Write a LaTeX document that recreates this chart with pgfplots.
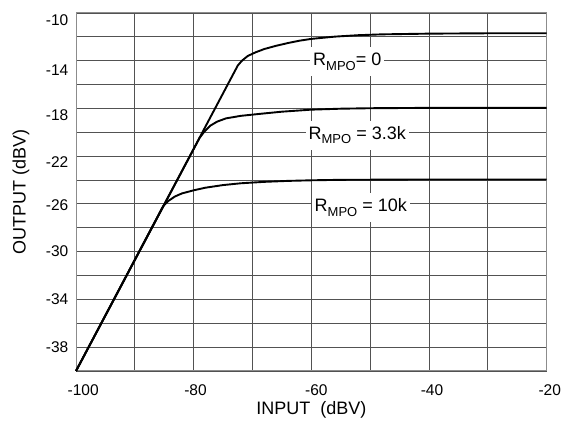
\documentclass[border=0pt]{standalone}
\usepackage{pgfplots}
\pgfplotsset{compat=1.18}
\usepackage{fontspec}
\setmainfont{Liberation Sans}
\newcommand{\rmpo}[1]{R\raisebox{-0.45ex}{\fontsize{13}{14}\selectfont MPO}#1}
\begin{document}
\begin{tikzpicture}
\begin{axis}[
  name=main,
  scale only axis, width=470.7pt, height=358pt,
  xmin=-100, xmax=-20, ymin=-40, ymax=-10,
  % label positions
  xtick={-99.3,-80.2,-59.65,-40,-20},
  xticklabels={-100,-80,-60,-40,-20},
  ytick={-10.59,-14.75,-18.59,-22.5,-26.08,-30,-34,-38},
  yticklabels={-10,-14,-18,-22,-26,-30,-34,-38},
  % grid lines
  minor xtick={-100,-90,...,-20},
  minor ytick={-40,-38,...,-10},
  grid=minor,
  minor grid style={draw=black!68, line width=0.9pt},
  tick style={draw=none},
  axis line style={draw=black!45, line width=1pt},
  ticklabel style={font=\fontsize{15.5}{18}\selectfont},
  xticklabel style={anchor=center, yshift=-19pt, xshift=3pt},
  yticklabel style={anchor=east, inner sep=0pt, xshift=-7.5pt},
  clip=false,
]
% R_MPO = 0
\addplot[black, line width=1.9pt, line join=round, no marks] coordinates {
  (-100,-40) (-72.5,-14.4) (-71.8,-14.0) (-70.8,-13.6)
  (-69.5,-13.3) (-68,-13.02) (-66,-12.75) (-64,-12.52) (-62,-12.32) (-60,-12.17)
  (-56,-11.98) (-52,-11.86) (-48,-11.79) (-40,-11.73) (-30,-11.7) (-20,-11.7)};
% R_MPO = 3.3k
\addplot[black, line width=1.9pt, line join=round, no marks] coordinates {
  (-100,-40) (-79,-20.47) (-78.2,-19.95) (-77.2,-19.45)
  (-76,-19.1) (-74.5,-18.83) (-72,-18.62) (-68.7,-18.45) (-65,-18.27)
  (-60,-18.1) (-55,-18.02) (-50,-17.98) (-40,-17.95) (-20,-17.95)};
% R_MPO = 10k
\addplot[black, line width=1.9pt, line join=round, no marks] coordinates {
  (-100,-40) (-85.2,-26.2) (-84.3,-25.75) (-83.2,-25.38)
  (-82,-25.12) (-80,-24.86) (-78,-24.64) (-75,-24.42) (-72,-24.27) (-68,-24.15)
  (-64,-24.07) (-60,-24.02) (-55,-23.98) (-40,-23.95) (-20,-23.95)};
\begin{scope}[every node/.style={fill=white, inner xsep=3pt, inner ysep=6pt,
    font=\fontsize{18}{21}\selectfont}]
\node at (axis cs:-53.9,-14.1) {\rmpo{= 0}};
\node at (axis cs:-52.2,-20.25) {\rmpo{ = 3.3k}};
\node at (axis cs:-51.6,-26.3) {\rmpo{ = 10k}};
\end{scope}
\end{axis}
% axis titles
\node[font=\fontsize{18}{21}\selectfont, anchor=center]
  at ([yshift=-39pt]main.south) {INPUT\ \ (dBV)};
\node[font=\fontsize{18}{21}\selectfont, anchor=center, rotate=90]
  at ([xshift=-55pt]main.west) {OUTPUT (dBV)};
% page frame
\path ([shift={(-76pt,-53pt)}]main.south west)
  rectangle ([shift={(19.3pt,13pt)}]main.north east);
\end{tikzpicture}
\end{document}
